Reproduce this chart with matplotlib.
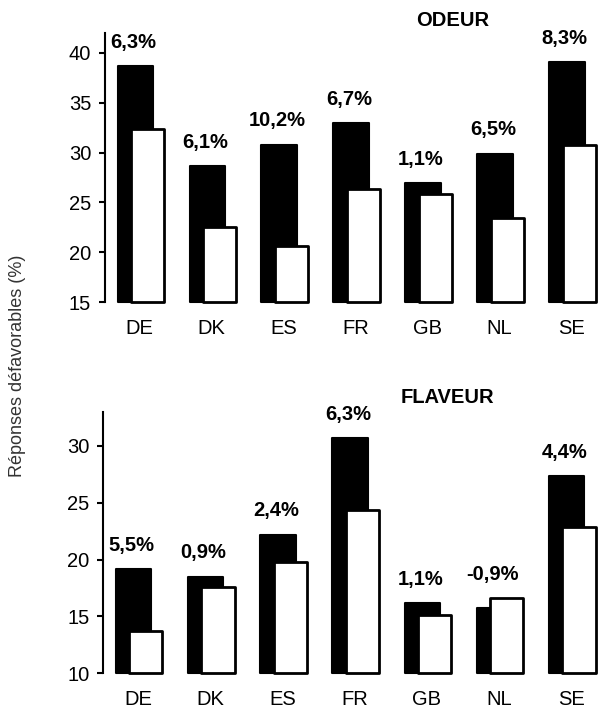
import numpy as np
import matplotlib
matplotlib.use("Agg")
import matplotlib.pyplot as plt

plt.rcParams["font.family"] = ["Liberation Sans", "DejaVu Sans"]

countries = ["DE", "DK", "ES", "FR", "GB", "NL", "SE"]

# black bars (front series) and white bars (back series), % unfavourable answers
odeur_black = [38.7, 28.6, 30.8, 33.0, 26.9, 29.9, 39.1]
odeur_white = [32.4, 22.5, 20.6, 26.3, 25.8, 23.4, 30.8]
odeur_labels = ["6,3%", "6,1%", "10,2%", "6,7%", "1,1%", "6,5%", "8,3%"]

flaveur_black = [19.2, 18.5, 22.2, 30.65, 16.2, 15.7, 27.3]
flaveur_white = [13.7, 17.6, 19.8, 24.35, 15.1, 16.6, 22.9]
flaveur_labels = ["5,5%", "0,9%", "2,4%", "6,3%", "1,1%", "-0,9%", "4,4%"]

FS = 14.5


def draw_panel(ax, black, white, labels, title, ymin, ymax, title_x, title_y):
    x = np.arange(len(countries))
    black = np.array(black)
    white = np.array(white)

    ax.bar(x - 0.06, black - ymin, bottom=ymin, width=0.49,
           color="black", edgecolor="black", linewidth=1.5,
           joinstyle="round", clip_on=False, zorder=2)
    ax.bar(x + 0.11, white - ymin, bottom=ymin, width=0.46,
           color="white", edgecolor="black", linewidth=2,
           joinstyle="round", clip_on=False, zorder=3)

    tops = np.maximum(black, white)
    for xi, top, lab in zip(x, tops, labels):
        ax.annotate(lab, (xi - 0.09, top), xytext=(0, 17),
                    textcoords="offset points", ha="center", va="center",
                    fontsize=FS, fontweight="bold", clip_on=False)

    ax.set_ylim(ymin, ymax)
    ax.set_xlim(-0.48, 6.4)
    ax.set_yticks(np.arange(ymin, ymax, 5))
    ax.set_xticks(x)
    ax.set_xticklabels(countries)
    ax.tick_params(axis="x", length=0, pad=12, labelsize=FS)
    ax.tick_params(axis="y", length=4, width=1.5, pad=6, labelsize=FS)
    for s in ["top", "right", "bottom"]:
        ax.spines[s].set_visible(False)
    ax.spines["left"].set_linewidth(1.5)
    ax.text(title_x, title_y, title, transform=ax.transAxes, ha="center",
            va="center", fontsize=FS, fontweight="bold")


fig = plt.figure(figsize=(6, 7.1), dpi=100)
ax1 = fig.add_axes([0.175, 0.5746, 0.825, 0.379])
ax2 = fig.add_axes([0.172, 0.0517, 0.828, 0.3685])

draw_panel(ax1, odeur_black, odeur_white, odeur_labels, "ODEUR", 15, 42, 0.703, 1.048)
draw_panel(ax2, flaveur_black, flaveur_white, flaveur_labels, "FLAVEUR", 10, 33, 0.692, 1.056)

fig.text(0.03, 1 - 366 / 710, "Réponses défavorables (%)", rotation=90,
         ha="center", va="center", fontsize=13, color="#333333")

fig.savefig("out.png", dpi=100)
